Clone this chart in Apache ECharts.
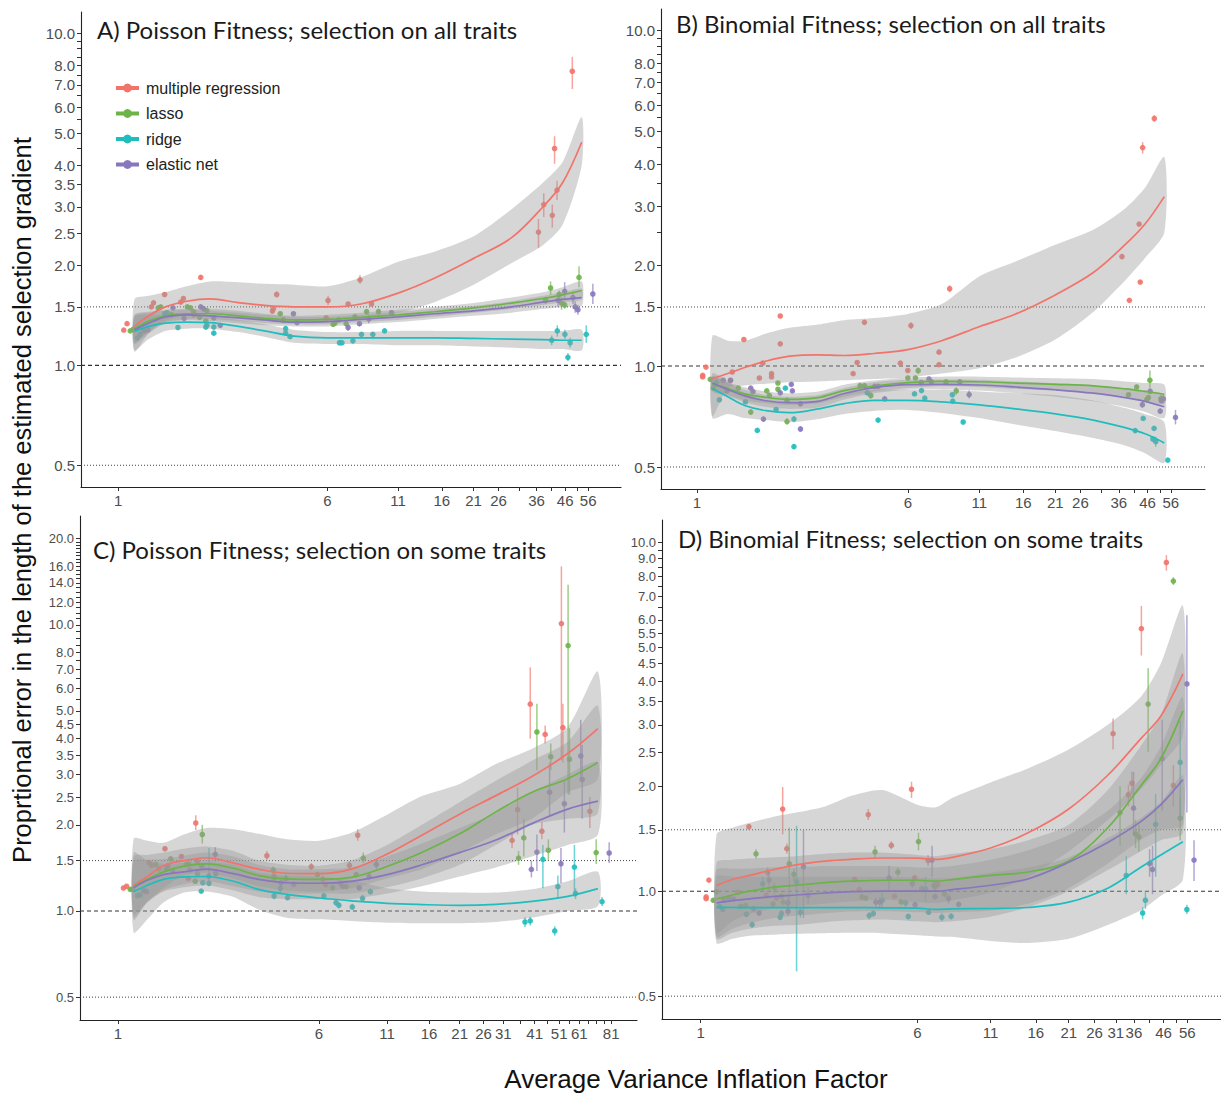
<!DOCTYPE html>
<html><head><meta charset="utf-8">
<script src="https://cdn.jsdelivr.net/npm/echarts@6/dist/echarts.min.js"></script>
<style>html,body{margin:0;padding:0;background:#fff}#c{width:1221px;height:1093px}</style>
</head><body><div id="c"></div>
<script>
// ---------- categories / labels ----------
const METHODS = ['multiple regression', 'lasso', 'ridge', 'elastic net'];
const TITLES = ['A) Poisson Fitness; selection on all traits', 'B) Binomial Fitness; selection on all traits',
  'C) Poisson Fitness; selection on some traits', 'D) Binomial Fitness; selection on some traits'];
const Y_TITLE = 'Proprtional error in the length of the estimated selection gradient';
const X_TITLE = 'Average Variance Inflation Factor';

// ---------- tick values ----------
const Y_TICKS_10 = [0.5,1,1.5,2,2.5,3,3.5,4,4.5,5,5.5,6,6.5,7,7.5,8,8.5,9,9.5,10];
const Y_TICKS_20 = [0.5,1,1.5,2,2.5,3,3.5,4,4.5,5,5.5,6,6.5,7,7.5,8,8.5,9,9.5,10,10.5,11,11.5,12,12.5,13,13.5,14,14.5,15,15.5,16,16.5,17,17.5,18,18.5,19,19.5,20];
const A_Y_LABELS = [0.5,1,1.5,2,2.5,3,3.5,4,5,6,7,8,10];
const B_Y_LABELS = [0.5,1,1.5,2,3,4,5,6,7,8,10];
const C_Y_LABELS = [0.5,1,1.5,2,2.5,3,3.5,4,4.5,5,6,7,8,10,12,14,16,20];
const D_Y_LABELS = [0.5,1,1.5,2,2.5,3,3.5,4,4.5,5,5.5,6,7,8,9,10];
const X_TICKS_56 = [1,6,11,16,21,26,31,36,41,46,51,56];
const X_TICKS_81 = [1,6,11,16,21,26,31,36,41,46,51,56,61,66,71,76,81];
const A_X_LABELS = [1,6,11,16,21,26,36,46,56];
const B_X_LABELS = [1,6,11,16,21,26,36,46,56];
const C_X_LABELS = [1,6,11,16,21,26,31,41,51,61,81];
const D_X_LABELS = [1,6,11,16,21,26,31,36,46,56];
const REF_DOTTED = [0.5, 1.5];
const REF_DASHED = [1.0];

// ---------- points: [VIF, error, lower, upper] ----------
const A_PTS_MR = [[1.05,1.276,1.26,1.29],[1.08,1.335,1.32,1.35],[1.33,1.50,1.48,1.52],[1.355,1.543,1.52,1.57],[1.49,1.635,1.61,1.66],[1.71,1.55,1.53,1.57],[1.75,1.59,1.57,1.61],[2.03,1.84,1.81,1.87],[1.91,1.42,1.40,1.44],[3.89,1.635,1.60,1.67],[3.75,1.457,1.43,1.48],[3.78,1.48,1.46,1.50],[5.94,1.39,1.37,1.41],[6.04,1.568,1.52,1.62],[7.17,1.53,1.51,1.55],[7.94,1.81,1.76,1.87],[8.76,1.53,1.51,1.55],[36.6,2.52,2.26,2.76],[38.3,3.05,2.8,3.3],[41.2,2.83,2.6,3.05],[42.0,4.5,4.05,4.9],[42.9,3.37,3.15,3.6],[48.9,7.69,6.8,8.5]];
const A_PTS_LASSO = [[1.11,1.27,1.26,1.28],[1.14,1.284,1.27,1.30],[1.41,1.49,1.47,1.51],[1.44,1.50,1.48,1.52],[1.58,1.42,1.40,1.44],[1.81,1.50,1.48,1.52],[1.86,1.49,1.47,1.51],[1.91,1.45,1.43,1.47],[2.01,1.395,1.37,1.42],[2.12,1.36,1.34,1.38],[2.14,1.46,1.44,1.48],[4.01,1.43,1.41,1.45],[4.12,1.37,1.35,1.39],[6.31,1.33,1.31,1.35],[6.4,1.34,1.32,1.36],[6.61,1.37,1.35,1.39],[7.05,1.335,1.31,1.36],[7.6,1.40,1.38,1.42],[8.4,1.45,1.42,1.48],[9.3,1.45,1.42,1.48],[40.6,1.71,1.63,1.79],[38.9,1.57,1.53,1.61],[43.7,1.635,1.59,1.68],[44.6,1.54,1.47,1.61],[45.8,1.52,1.48,1.56],[51.8,1.84,1.72,1.99]];
const A_PTS_RIDGE = [[1.18,1.21,1.19,1.23],[1.21,1.24,1.22,1.26],[1.49,1.43,1.41,1.45],[1.52,1.44,1.42,1.46],[1.67,1.30,1.28,1.32],[2.12,1.305,1.285,1.325],[2.14,1.32,1.30,1.34],[2.27,1.305,1.285,1.325],[2.27,1.25,1.23,1.27],[4.2,1.29,1.27,1.31],[4.2,1.25,1.23,1.27],[4.36,1.22,1.20,1.24],[6.66,1.17,1.15,1.19],[6.8,1.17,1.15,1.19],[7.47,1.185,1.165,1.205],[8.04,1.24,1.22,1.26],[8.86,1.24,1.22,1.26],[9.8,1.27,1.25,1.29],[41.0,1.19,1.15,1.23],[43.0,1.27,1.22,1.32],[45.9,1.24,1.20,1.28],[47.1,1.057,1.03,1.09],[48.0,1.17,1.13,1.21],[55.1,1.24,1.17,1.32]];
const A_PTS_EN = [[1.25,1.27,1.25,1.29],[1.29,1.28,1.26,1.30],[1.60,1.49,1.47,1.51],[1.76,1.386,1.37,1.41],[2.03,1.50,1.48,1.52],[2.08,1.48,1.46,1.50],[2.27,1.39,1.37,1.41],[2.40,1.32,1.30,1.34],[4.49,1.43,1.41,1.45],[4.63,1.345,1.33,1.36],[7.17,1.30,1.27,1.33],[7.9,1.335,1.31,1.36],[8.56,1.38,1.34,1.42],[10.4,1.44,1.42,1.46],[43.3,1.57,1.50,1.64],[45.8,1.67,1.58,1.78],[49.2,1.60,1.53,1.67],[50.1,1.50,1.44,1.56],[51.3,1.47,1.42,1.52],[58.3,1.64,1.53,1.76]];

const B_PTS_MR = [[1.05,0.938,0.93,0.95],[1.05,0.928,0.92,0.94],[1.08,0.993,0.985,1.0],[1.35,0.96,0.95,0.97],[1.33,0.905,0.895,0.915],[1.49,1.20,1.19,1.21],[1.70,0.921,0.91,0.93],[1.75,1.02,1.01,1.03],[1.885,0.949,0.94,0.96],[1.885,0.928,0.918,0.938],[2.03,1.41,1.40,1.42],[2.03,1.165,1.155,1.175],[3.77,0.949,0.94,0.96],[3.9,1.025,1.015,1.035],[4.15,1.35,1.33,1.37],[5.63,1.02,1.01,1.03],[6.0,0.97,0.96,0.98],[6.16,1.32,1.29,1.35],[7.82,1.10,1.08,1.12],[7.82,1.01,1.0,1.02],[8.56,1.70,1.66,1.74],[37.0,2.12,2.08,2.16],[39.4,1.57,1.55,1.59],[43.2,1.78,1.76,1.80],[42.8,2.65,2.61,2.69],[44.1,4.48,4.3,4.65],[48.7,5.47,5.35,5.6]];
const B_PTS_LASSO = [[1.12,0.913,0.905,0.921],[1.15,0.859,0.851,0.867],[1.42,0.86,0.852,0.868],[1.58,0.729,0.715,0.743],[1.81,0.843,0.835,0.851],[1.85,0.817,0.809,0.825],[1.99,0.89,0.882,0.898],[1.99,0.853,0.845,0.861],[2.15,0.79,0.775,0.805],[2.15,0.683,0.67,0.70],[4.0,0.874,0.866,0.882],[4.15,0.874,0.866,0.882],[4.38,0.817,0.80,0.835],[6.0,0.921,0.913,0.929],[6.4,0.921,0.913,0.929],[6.55,0.969,0.945,0.99],[8.3,0.897,0.885,0.91],[9.05,0.843,0.82,0.865],[39.1,0.821,0.81,0.832],[41.9,0.866,0.855,0.88],[45.7,0.795,0.785,0.805],[46.3,0.806,0.795,0.815],[46.9,0.907,0.86,0.97],[51.5,0.80,0.78,0.82]];
const B_PTS_RIDGE = [[1.18,0.895,0.887,0.903],[1.21,0.793,0.78,0.805],[1.51,0.782,0.775,0.79],[1.67,0.643,0.635,0.651],[1.96,0.742,0.735,0.75],[2.12,0.859,0.851,0.867],[2.28,0.695,0.68,0.71],[2.28,0.575,0.565,0.585],[4.25,0.832,0.824,0.84],[4.66,0.69,0.68,0.70],[6.35,0.826,0.818,0.834],[6.74,0.845,0.837,0.853],[6.93,0.802,0.794,0.81],[8.76,0.821,0.81,0.832],[8.79,0.786,0.778,0.794],[9.6,0.681,0.67,0.692],[41.4,0.642,0.632,0.652],[44.3,0.698,0.69,0.706],[48.1,0.606,0.596,0.616],[48.6,0.652,0.642,0.662],[49.3,0.595,0.575,0.615],[54.6,0.524,0.518,0.53]];
const B_PTS_EN = [[1.25,0.907,0.899,0.915],[1.29,0.843,0.835,0.851],[1.33,0.907,0.899,0.915],[1.58,0.859,0.851,0.867],[1.61,0.839,0.831,0.847],[1.76,0.695,0.683,0.707],[2.03,0.832,0.824,0.84],[2.23,0.882,0.874,0.89],[2.25,0.843,0.835,0.851],[2.41,0.772,0.76,0.785],[2.41,0.649,0.637,0.661],[4.53,0.87,0.86,0.88],[4.66,0.87,0.86,0.88],[4.93,0.798,0.785,0.81],[6.72,0.893,0.885,0.901],[7.18,0.915,0.907,0.923],[7.33,0.897,0.885,0.91],[9.33,0.897,0.885,0.91],[10.1,0.822,0.80,0.845],[44.0,0.767,0.75,0.785],[47.0,0.841,0.825,0.857],[51.2,0.734,0.72,0.748],[51.7,0.788,0.775,0.8],[52.6,0.798,0.775,0.82],[58.3,0.703,0.67,0.74]];

const C_PTS_MR = [[1.05,1.203,1.195,1.211],[1.08,1.22,1.21,1.23],[1.32,1.475,1.46,1.49],[1.35,1.443,1.43,1.456],[1.52,1.65,1.62,1.68],[1.76,1.55,1.52,1.58],[1.87,1.30,1.28,1.32],[2.0,2.03,1.92,2.16],[2.03,1.49,1.46,1.52],[3.77,1.56,1.51,1.62],[4.02,1.325,1.30,1.35],[5.6,1.428,1.39,1.47],[6.2,1.29,1.25,1.33],[6.37,1.235,1.21,1.26],[7.25,1.25,1.23,1.27],[7.87,1.443,1.40,1.49],[8.47,1.84,1.76,1.93],[33.5,1.765,1.66,1.88],[35.2,2.26,1.85,2.7],[43.7,1.90,1.78,2.05],[67,2.23,1.95,2.5],[39.4,5.28,4.0,7.1],[45.0,4.14,3.85,4.45],[52.0,10.1,3.36,16.0],[52.7,4.37,3.3,5.3]];
const C_PTS_LASSO = [[1.115,1.19,1.18,1.20],[1.14,1.19,1.18,1.20],[1.40,1.455,1.44,1.47],[1.44,1.405,1.39,1.42],[1.60,1.52,1.49,1.55],[1.84,1.455,1.43,1.48],[1.88,1.46,1.44,1.48],[1.99,1.27,1.25,1.29],[2.03,1.35,1.33,1.37],[2.12,1.85,1.72,2.0],[3.99,1.39,1.35,1.43],[4.02,1.30,1.27,1.33],[5.92,1.34,1.31,1.37],[6.77,1.206,1.18,1.23],[7.64,1.216,1.19,1.24],[8.36,1.34,1.31,1.37],[8.9,1.53,1.47,1.6],[35.5,1.53,1.45,1.62],[37.2,1.80,1.55,2.1],[46.3,1.63,1.5,1.78],[70.9,1.60,1.46,1.78],[41.8,4.22,3.1,5.3],[47.3,3.46,3.1,3.85],[55.2,8.46,2.56,13.8],[55.9,3.39,2.55,4.35]];
const C_PTS_RIDGE = [[1.19,1.131,1.12,1.14],[1.22,1.137,1.126,1.148],[1.54,1.40,1.38,1.42],[2.10,1.174,1.16,1.19],[2.13,1.255,1.235,1.275],[2.25,1.25,1.22,1.66],[4.02,1.128,1.10,1.16],[4.25,1.20,1.15,1.25],[4.53,1.113,1.09,1.14],[6.26,1.128,1.10,1.16],[6.98,1.069,1.04,1.10],[7.16,1.047,1.02,1.075],[8.07,1.033,1.01,1.06],[8.84,1.107,1.08,1.14],[9.48,1.168,1.14,1.2],[37.6,0.915,0.88,0.95],[39.4,0.923,0.89,0.955],[44.1,1.515,1.2,1.7],[49.0,0.852,0.82,0.885],[50.4,1.216,1.11,1.33],[58.4,1.424,1.12,1.7],[59.0,1.152,1.1,1.2],[74.7,1.078,1.04,1.12]];
const C_PTS_EN = [[1.26,1.18,1.17,1.19],[1.29,1.168,1.158,1.178],[1.56,1.436,1.42,1.45],[1.63,1.379,1.36,1.40],[1.90,1.39,1.37,1.41],[2.11,1.436,1.41,1.46],[2.25,1.325,1.30,1.35],[2.39,1.35,1.32,1.38],[2.38,1.577,1.49,1.67],[4.28,1.255,1.22,1.29],[4.47,1.297,1.26,1.34],[4.79,1.239,1.21,1.27],[7.4,1.222,1.19,1.26],[8.58,1.206,1.18,1.23],[9.37,1.318,1.28,1.36],[10.0,1.455,1.40,1.51],[39.8,1.397,1.31,1.5],[41.8,1.606,1.38,1.85],[51.8,1.463,1.25,1.66],[79.6,1.594,1.47,1.74],[46.8,2.60,2.15,3.3],[53.4,2.37,1.88,2.85],[61.8,3.48,2.9,4.66],[62.6,2.88,2.1,3.8]];

const D_PTS_MR = [[1.046,0.963,0.955,0.971],[1.046,0.952,0.944,0.96],[1.07,1.076,1.066,1.086],[1.36,0.993,0.98,1.006],[1.49,1.53,1.50,1.56],[1.72,0.974,0.96,0.99],[1.74,1.134,1.10,1.17],[1.87,0.957,0.945,0.97],[1.97,1.72,1.455,1.99],[2.04,1.324,1.28,1.37],[3.57,1.08,1.06,1.10],[3.71,1.011,0.99,1.03],[4.0,1.658,1.60,1.72],[4.84,1.353,1.32,1.39],[4.97,0.967,0.95,0.985],[5.72,1.96,1.85,2.06],[5.87,1.092,1.07,1.115],[6.56,1.225,1.18,1.27],[7.1,1.045,1.02,1.07],[34.4,1.89,1.75,2.02],[35.4,2.04,1.9,2.2],[49.9,2.01,1.75,2.3],[30.3,2.83,2.55,3.13],[38.3,5.66,4.74,6.58],[47.1,8.76,8.3,9.2]];
const D_PTS_LASSO = [[1.11,0.942,0.932,0.952],[1.14,0.996,0.986,1.006],[1.39,0.905,0.89,0.92],[1.45,0.91,0.895,0.925],[1.58,1.28,1.24,1.32],[1.82,0.919,0.905,0.933],[1.84,1.022,0.98,1.06],[1.95,0.967,0.95,0.985],[1.98,0.93,0.915,0.945],[2.08,1.199,0.93,1.52],[2.16,1.117,1.07,1.16],[3.79,0.963,0.94,0.985],[3.92,0.955,0.935,0.975],[4.23,1.295,1.24,1.35],[5.11,1.134,1.10,1.17],[5.25,0.932,0.915,0.95],[6.06,1.387,1.31,1.47],[6.22,1.015,0.99,1.04],[6.88,1.038,1.01,1.07],[6.95,1.029,1.0,1.06],[7.52,0.982,0.96,1.005],[32.1,1.68,1.35,2.0],[36.5,1.46,1.33,1.6],[37.5,1.43,1.3,1.55],[52.8,1.62,1.4,1.87],[40.5,3.44,2.51,4.36],[49.9,7.75,7.55,7.95]];
const D_PTS_RIDGE = [[1.17,0.905,0.89,0.92],[1.2,0.886,0.872,0.9],[1.46,0.859,0.845,0.873],[1.53,0.802,0.785,0.82],[1.67,1.05,1.0,1.1],[1.93,0.842,0.825,0.86],[1.95,0.864,0.845,0.885],[2.21,1.064,0.589,1.54],[2.28,0.87,0.84,0.9],[4.03,0.851,0.83,0.872],[4.17,0.863,0.845,0.88],[4.49,0.942,0.89,1.0],[5.45,0.926,0.9,0.95],[5.57,0.846,0.83,0.862],[6.42,1.015,0.93,1.1],[6.59,0.87,0.855,0.885],[7.35,0.842,0.82,0.865],[7.94,0.847,0.83,0.865],[33.8,1.109,0.98,1.26],[38.7,0.866,0.83,0.9],[39.6,0.942,0.89,1.0],[43.1,1.555,1.1,1.9],[52.8,2.34,1.6,3.08],[55.8,0.886,0.86,0.915]];
const D_PTS_EN = [[1.21,0.942,0.93,0.955],[1.26,0.957,0.945,0.97],[1.31,0.95,0.938,0.962],[1.55,0.89,0.875,0.905],[1.62,0.866,0.85,0.882],[1.76,1.076,1.0,1.15],[2.06,0.926,0.89,0.96],[2.06,0.876,0.85,0.9],[2.34,1.175,0.838,1.5],[2.43,0.972,0.92,1.03],[4.26,0.93,0.9,0.96],[4.4,0.93,0.9,0.96],[4.75,1.09,1.0,1.18],[5.76,1.052,1.02,1.085],[5.89,0.915,0.9,0.93],[6.78,1.228,1.1,1.35],[6.95,0.965,0.945,0.985],[7.77,0.953,0.92,0.985],[8.45,0.917,0.9,0.935],[35.9,1.73,1.45,2.2],[41.0,1.2,1.1,1.32],[42.0,1.154,0.98,1.35],[59.2,1.228,1.07,1.4],[45.5,2.4,1.7,3.1],[55.8,3.93,1.68,6.18]];

// ---------- smoothed fits (loess) and their confidence bands ----------
const A_FIT_X = [1.15,1.3,1.5,1.8,2.2,2.8,3.5,4.5,6,8,11,15,21,29,38,45,53];
const A_FIT_MR    = [1.31,1.41,1.50,1.56,1.585,1.545,1.515,1.50,1.50,1.53,1.65,1.83,2.1,2.42,3.0,3.55,4.7];
const A_LO_MR     = [1.10,1.25,1.36,1.42,1.43,1.40,1.36,1.34,1.35,1.38,1.44,1.55,1.75,2.03,2.3,2.65,4.0];
const A_HI_MR     = [1.58,1.62,1.66,1.73,1.79,1.78,1.76,1.75,1.73,1.84,2.05,2.2,2.45,2.95,3.55,4.1,5.6];
const A_FIT_LASSO = [1.29,1.36,1.41,1.43,1.43,1.41,1.385,1.37,1.375,1.395,1.42,1.45,1.49,1.54,1.59,1.63,1.68];
const A_LO_LASSO  = [1.17,1.27,1.35,1.38,1.38,1.36,1.34,1.33,1.33,1.35,1.37,1.40,1.44,1.48,1.52,1.55,1.58];
const A_HI_LASSO  = [1.42,1.45,1.47,1.48,1.48,1.46,1.43,1.41,1.42,1.44,1.47,1.50,1.54,1.60,1.66,1.72,1.79];
const A_FIT_RIDGE = [1.265,1.31,1.34,1.35,1.345,1.31,1.27,1.225,1.21,1.21,1.21,1.21,1.205,1.20,1.195,1.19,1.19];
const A_LO_RIDGE  = [1.11,1.20,1.27,1.29,1.29,1.26,1.22,1.17,1.16,1.16,1.15,1.15,1.14,1.13,1.12,1.12,1.11];
const A_HI_RIDGE  = [1.40,1.42,1.42,1.42,1.41,1.37,1.33,1.28,1.26,1.26,1.27,1.27,1.27,1.27,1.27,1.27,1.28];
const A_FIT_EN    = [1.28,1.34,1.40,1.42,1.41,1.39,1.37,1.35,1.355,1.375,1.40,1.43,1.46,1.50,1.55,1.58,1.60];
const A_LO_EN     = [1.16,1.25,1.34,1.37,1.36,1.34,1.32,1.31,1.31,1.33,1.35,1.38,1.41,1.44,1.48,1.50,1.51];
const A_HI_EN     = [1.41,1.44,1.46,1.47,1.46,1.44,1.42,1.40,1.40,1.42,1.45,1.48,1.51,1.56,1.62,1.66,1.70];

const B_FIT_X = [1.14,1.3,1.5,1.8,2.2,2.8,3.5,4.5,6,8,11,15,21,29,38,45,53];
const B_FIT_MR    = [0.917,0.95,0.99,1.035,1.07,1.08,1.075,1.09,1.12,1.19,1.31,1.43,1.63,1.90,2.3,2.65,3.2];
const B_LO_MR     = [0.71,0.86,0.875,0.886,0.895,0.90,0.907,0.915,0.925,0.95,0.985,1.06,1.2,1.45,1.8,2.1,2.5];
const B_HI_MR     = [1.23,1.19,1.19,1.25,1.30,1.33,1.37,1.39,1.43,1.53,1.85,2.05,2.3,2.55,2.95,3.4,4.2];
const B_FIT_LASSO = [0.882,0.857,0.826,0.806,0.795,0.805,0.845,0.872,0.892,0.90,0.898,0.89,0.882,0.873,0.855,0.84,0.824];
const B_LO_LASSO  = [0.84,0.82,0.79,0.775,0.765,0.775,0.81,0.84,0.86,0.87,0.865,0.855,0.845,0.83,0.81,0.79,0.77];
const B_HI_LASSO  = [0.93,0.895,0.865,0.84,0.83,0.84,0.88,0.905,0.925,0.93,0.93,0.925,0.92,0.915,0.90,0.89,0.88];
const B_FIT_RIDGE = [0.857,0.81,0.763,0.736,0.726,0.745,0.773,0.79,0.79,0.782,0.766,0.745,0.72,0.69,0.655,0.628,0.59];
const B_LO_RIDGE  = [0.70,0.72,0.70,0.69,0.68,0.695,0.72,0.735,0.74,0.725,0.70,0.67,0.64,0.61,0.58,0.55,0.515];
const B_HI_RIDGE  = [0.95,0.90,0.83,0.79,0.775,0.79,0.83,0.85,0.85,0.85,0.84,0.83,0.82,0.79,0.75,0.72,0.68];
const B_FIT_EN    = [0.89,0.851,0.815,0.788,0.778,0.785,0.828,0.862,0.88,0.882,0.878,0.866,0.85,0.83,0.805,0.785,0.756];
const B_LO_EN     = [0.85,0.815,0.78,0.755,0.745,0.752,0.795,0.83,0.85,0.852,0.845,0.83,0.81,0.785,0.755,0.73,0.70];
const B_HI_EN     = [0.935,0.89,0.85,0.82,0.81,0.82,0.86,0.895,0.91,0.912,0.91,0.90,0.89,0.875,0.86,0.845,0.82];

const C_FIT_X = [1.15,1.3,1.5,1.8,2.2,2.8,3.5,4.5,6,8,11,15,21,29,40,55,72];
const C_FIT_MR    = [1.229,1.32,1.44,1.50,1.535,1.47,1.40,1.355,1.35,1.40,1.58,1.84,2.18,2.53,2.95,3.55,4.34];
const C_LO_MR     = [0.93,1.08,1.2,1.33,1.36,1.30,1.22,1.18,1.17,1.2,1.3,1.4,1.6,1.85,2.1,2.6,2.9];
const C_HI_MR     = [1.79,1.76,1.73,1.85,1.95,1.93,1.86,1.78,1.76,1.875,2.17,2.52,2.78,3.26,3.69,4.39,6.86];
const C_FIT_LASSO = [1.216,1.29,1.37,1.435,1.46,1.41,1.33,1.295,1.29,1.31,1.43,1.60,1.86,2.22,2.6,2.9,3.3];
const C_LO_LASSO  = [0.95,1.07,1.18,1.24,1.27,1.22,1.17,1.15,1.15,1.15,1.21,1.3,1.45,1.7,2.0,2.1,2.2];
const C_HI_LASSO  = [1.55,1.57,1.6,1.65,1.68,1.62,1.5,1.45,1.44,1.5,1.7,2.0,2.4,2.85,3.35,3.9,5.2];
const C_FIT_RIDGE = [1.168,1.23,1.29,1.315,1.32,1.27,1.19,1.143,1.11,1.085,1.063,1.053,1.047,1.055,1.08,1.125,1.197];
const C_LO_RIDGE  = [0.84,0.935,1.07,1.16,1.17,1.12,1.013,0.948,0.935,0.923,0.91,0.906,0.906,0.915,0.948,1.0,1.04];
const C_HI_RIDGE  = [1.6,1.5,1.46,1.47,1.48,1.45,1.36,1.33,1.32,1.28,1.2,1.17,1.16,1.16,1.19,1.27,1.37];
const C_FIT_EN    = [1.206,1.28,1.34,1.37,1.40,1.35,1.29,1.255,1.25,1.27,1.34,1.45,1.60,1.77,2.02,2.27,2.42];
const C_LO_EN     = [0.98,1.08,1.17,1.21,1.23,1.18,1.12,1.1,1.1,1.1,1.15,1.22,1.32,1.42,1.55,1.7,1.85];
const C_HI_EN     = [1.5,1.51,1.52,1.56,1.6,1.55,1.45,1.4,1.4,1.42,1.55,1.72,1.95,2.2,2.6,3.0,3.3];

const D_FIT_X = [1.14,1.3,1.5,1.8,2.2,2.8,3.5,4.5,6,7,8,11,15,21,29,38,45,54];
const D_FIT_MR    = [1.038,1.08,1.11,1.15,1.19,1.22,1.235,1.245,1.244,1.233,1.25,1.33,1.47,1.72,2.15,2.73,3.18,4.2];
const D_LO_MR     = [0.76,0.82,0.86,0.89,0.905,0.92,0.935,0.945,0.93,0.925,0.94,0.99,1.1,1.3,1.6,1.95,2.3,2.8];
const D_HI_MR     = [1.455,1.52,1.57,1.63,1.68,1.75,1.88,1.95,1.77,1.74,1.85,2.05,2.25,2.55,3.0,3.6,4.5,6.6];
const D_FIT_LASSO = [0.95,0.975,1.0,1.025,1.04,1.058,1.068,1.075,1.075,1.068,1.08,1.11,1.135,1.22,1.52,2.0,2.4,3.29];
const D_LO_LASSO  = [0.74,0.78,0.81,0.835,0.85,0.865,0.875,0.876,0.87,0.865,0.87,0.88,0.92,1.02,1.2,1.4,1.5,1.55];
const D_HI_LASSO  = [1.21,1.23,1.24,1.25,1.26,1.28,1.29,1.29,1.27,1.26,1.28,1.32,1.40,1.55,1.95,2.6,3.2,4.8];
const D_FIT_RIDGE = [0.899,0.898,0.897,0.897,0.897,0.897,0.897,0.896,0.894,0.887,0.89,0.892,0.898,0.93,1.02,1.17,1.27,1.386];
const D_LO_RIDGE  = [0.71,0.73,0.745,0.75,0.755,0.758,0.76,0.758,0.748,0.742,0.74,0.72,0.71,0.73,0.8,0.88,0.97,1.08];
const D_HI_RIDGE  = [1.10,1.10,1.10,1.10,1.10,1.10,1.10,1.10,1.095,1.09,1.092,1.13,1.17,1.25,1.42,1.62,1.8,2.14];
const D_FIT_EN    = [0.926,0.94,0.95,0.965,0.975,0.988,0.997,1.0,1.0,1.0,1.01,1.04,1.085,1.21,1.38,1.58,1.77,2.09];
const D_LO_EN     = [0.73,0.76,0.78,0.795,0.80,0.815,0.825,0.83,0.82,0.815,0.82,0.845,0.9,1.0,1.15,1.3,1.4,1.47];
const D_HI_EN     = [1.15,1.16,1.16,1.17,1.17,1.18,1.18,1.18,1.17,1.17,1.18,1.23,1.31,1.45,1.7,2.1,2.6,3.6];

// ---------- styling ----------
const COLORS = ['#F2736A', '#6CB447', '#1FBDBD', '#8877BD'];
const BAND_FILL = 'rgba(153,153,153,0.4)';
const LABEL_FONT = 'Liberation Sans';

const PANELS = [
  { grid: {left: 81, top: 12, width: 540, height: 475}, x: [0.728, 74.2], y: [0.43, 11.6], yFont: 15,
    xTicks: X_TICKS_56, xLabels: A_X_LABELS, yTicks: Y_TICKS_10, yLabels: A_Y_LABELS,
    pts: [A_PTS_MR, A_PTS_LASSO, A_PTS_RIDGE, A_PTS_EN], fx: A_FIT_X,
    fit: [A_FIT_MR, A_FIT_LASSO, A_FIT_RIDGE, A_FIT_EN], lo: [A_LO_MR, A_LO_LASSO, A_LO_RIDGE, A_LO_EN], hi: [A_HI_MR, A_HI_LASSO, A_HI_RIDGE, A_HI_EN],
    title: {x: 97, y: 29} },
  { grid: {left: 661, top: 9, width: 544, height: 480}, x: [0.737, 74.9], y: [0.43, 11.6], yFont: 15,
    xTicks: X_TICKS_56, xLabels: B_X_LABELS, yTicks: Y_TICKS_10, yLabels: B_Y_LABELS,
    pts: [B_PTS_MR, B_PTS_LASSO, B_PTS_RIDGE, B_PTS_EN], fx: B_FIT_X,
    fit: [B_FIT_MR, B_FIT_LASSO, B_FIT_RIDGE, B_FIT_EN], lo: [B_LO_MR, B_LO_LASSO, B_LO_RIDGE, B_LO_EN], hi: [B_HI_MR, B_HI_LASSO, B_HI_RIDGE, B_HI_EN],
    title: {x: 676, y: 23} },
  { grid: {left: 80, top: 516, width: 557, height: 504}, x: [0.713, 102], y: [0.416, 24.0], yFont: 13,
    xTicks: X_TICKS_81, xLabels: C_X_LABELS, yTicks: Y_TICKS_20, yLabels: C_Y_LABELS,
    pts: [C_PTS_MR, C_PTS_LASSO, C_PTS_RIDGE, C_PTS_EN], fx: C_FIT_X,
    fit: [C_FIT_MR, C_FIT_LASSO, C_FIT_RIDGE, C_FIT_EN], lo: [C_LO_MR, C_LO_LASSO, C_LO_RIDGE, C_LO_EN], hi: [C_HI_MR, C_HI_LASSO, C_HI_RIDGE, C_HI_EN],
    title: {x: 93, y: 549} },
  { grid: {left: 662, top: 520, width: 559, height: 499}, x: [0.726, 74], y: [0.43, 11.6], yFont: 13,
    xTicks: X_TICKS_56, xLabels: D_X_LABELS, yTicks: Y_TICKS_10, yLabels: D_Y_LABELS,
    pts: [D_PTS_MR, D_PTS_LASSO, D_PTS_RIDGE, D_PTS_EN], fx: D_FIT_X,
    fit: [D_FIT_MR, D_FIT_LASSO, D_FIT_RIDGE, D_FIT_EN], lo: [D_LO_MR, D_LO_LASSO, D_LO_RIDGE, D_LO_EN], hi: [D_HI_MR, D_HI_LASSO, D_HI_RIDGE, D_HI_EN],
    title: {x: 678, y: 538} }
];

const grids = [], xAxes = [], yAxes = [], series = [], graphics = [];

function pointRenderer(color) {
  return function (params, api) {
    const x = api.value(0), y = api.value(1), lo = api.value(2), hi = api.value(3);
    const p = api.coord([x, y]), a = api.coord([x, lo]), b = api.coord([x, hi]);
    return { type: 'group', children: [
      { type: 'line', shape: {x1: a[0], y1: a[1], x2: b[0], y2: b[1]}, style: {stroke: color, lineWidth: 1.5, opacity: 0.65} },
      { type: 'circle', shape: {cx: p[0], cy: p[1], r: 2.8}, style: {fill: color, opacity: 0.9} }
    ]};
  };
}
function bandRenderer(fx, lo, hi) {
  return function (params, api) {
    const pts = [];
    for (let i = 0; i < fx.length; i++) pts.push(api.coord([fx[i], hi[i]]));
    for (let i = fx.length - 1; i >= 0; i--) pts.push(api.coord([fx[i], lo[i]]));
    return { type: 'polygon', shape: {points: pts, smooth: 0.25}, style: {fill: BAND_FILL} };
  };
}

PANELS.forEach(function (P, gi) {
  grids.push(Object.assign({containLabel: false}, P.grid));
  xAxes.push({
    type: 'log', gridIndex: gi, min: P.x[0], max: P.x[1], logBase: 10,
    axisLine: {show: true, onZero: false, lineStyle: {color: '#222', width: 1.1}},
    axisTick: {show: true, length: 4, lineStyle: {color: '#333'}, customValues: P.xTicks},
    axisLabel: {show: true, customValues: P.xLabels, margin: 6, color: '#4d4d4d', fontSize: 15, fontFamily: LABEL_FONT,
      formatter: function (v) { return String(Math.round(v)); }},
    splitLine: {show: false}, minorTick: {show: false}
  });
  yAxes.push({
    type: 'log', gridIndex: gi, min: P.y[0], max: P.y[1], logBase: 10,
    axisLine: {show: true, onZero: false, lineStyle: {color: '#222', width: 1.1}},
    axisTick: {show: true, length: 4, lineStyle: {color: '#333'}, customValues: P.yTicks},
    axisLabel: {show: true, customValues: P.yLabels, margin: 6, color: '#4d4d4d', fontSize: P.yFont, lineHeight: P.yFont, fontFamily: LABEL_FONT,
      formatter: function (v) { return (Math.round(v * 10) / 10).toFixed(1); }},
    splitLine: {show: false}, minorTick: {show: false}
  });
  // reference lines
  REF_DOTTED.forEach(function (v) {
    series.push({type: 'line', xAxisIndex: gi, yAxisIndex: gi, data: [[P.x[0], v], [P.x[1], v]], symbol: 'none', silent: true, z: 1,
      lineStyle: {color: '#444', width: 1, type: [1, 2]}, animation: false});
  });
  REF_DASHED.forEach(function (v) {
    series.push({type: 'line', xAxisIndex: gi, yAxisIndex: gi, data: [[P.x[0], v], [P.x[1], v]], symbol: 'none', silent: true, z: 1,
      lineStyle: {color: '#333', width: 1.1, type: [4, 3]}, animation: false});
  });
  // points with error bars
  P.pts.forEach(function (arr, k) {
    series.push({type: 'custom', xAxisIndex: gi, yAxisIndex: gi, data: arr, renderItem: pointRenderer(COLORS[k]),
      encode: {x: 0, y: 1}, z: 2, clip: true, silent: true, animation: false});
  });
  // confidence bands
  P.fit.forEach(function (f, k) {
    series.push({type: 'custom', xAxisIndex: gi, yAxisIndex: gi, data: [[P.fx[0], f[0]]],
      renderItem: bandRenderer(P.fx, P.lo[k], P.hi[k]), encode: {x: 0, y: 1}, z: 3, clip: true, silent: true, animation: false});
  });
  // fitted lines
  P.fit.forEach(function (f, k) {
    series.push({type: 'line', name: METHODS[k], xAxisIndex: gi, yAxisIndex: gi,
      data: P.fx.map(function (x, i) { return [x, f[i]]; }), symbol: 'none', smooth: 0.35, z: 4,
      lineStyle: {color: COLORS[k], width: 1.7}, itemStyle: {color: COLORS[k]}, animation: false});
  });
  graphics.push({type: 'text', x: P.title.x, y: P.title.y,
    style: {text: TITLES[gi], fontFamily: 'Lato', fontSize: 24, fill: '#1a1a1a', verticalAlign: 'middle', align: 'left'}});
});

graphics.push({type: 'text', x: 22, y: 500, rotation: Math.PI / 2,
  style: {text: Y_TITLE, fontFamily: LABEL_FONT, fontSize: 25.5, fill: '#111', align: 'center', verticalAlign: 'middle'}});
graphics.push({type: 'text', x: 696, y: 1079,
  style: {text: X_TITLE, fontFamily: LABEL_FONT, fontSize: 26, fill: '#111', align: 'center', verticalAlign: 'middle'}});

const LEGEND_ICON = 'path://M0,2.5H7.47A4.5,4.5 0 0 1 15.53,2.5H23V6.5H15.53A4.5,4.5 0 0 1 7.47,6.5H0Z';

const chart = echarts.init(document.getElementById('c'), null, {renderer: 'svg'});
chart.setOption({
  animation: false,
  backgroundColor: '#fff',
  grid: grids, xAxis: xAxes, yAxis: yAxes, series: series,
  legend: {data: METHODS, orient: 'vertical', left: 111, top: 75, itemWidth: 23, itemHeight: 9, itemGap: 9.5,
    icon: LEGEND_ICON, selectedMode: false,
    textStyle: {fontFamily: LABEL_FONT, fontSize: 16, color: '#222', padding: [0, 0, 0, 2], lineHeight: 16}},
  graphic: graphics
});
</script></body></html>
